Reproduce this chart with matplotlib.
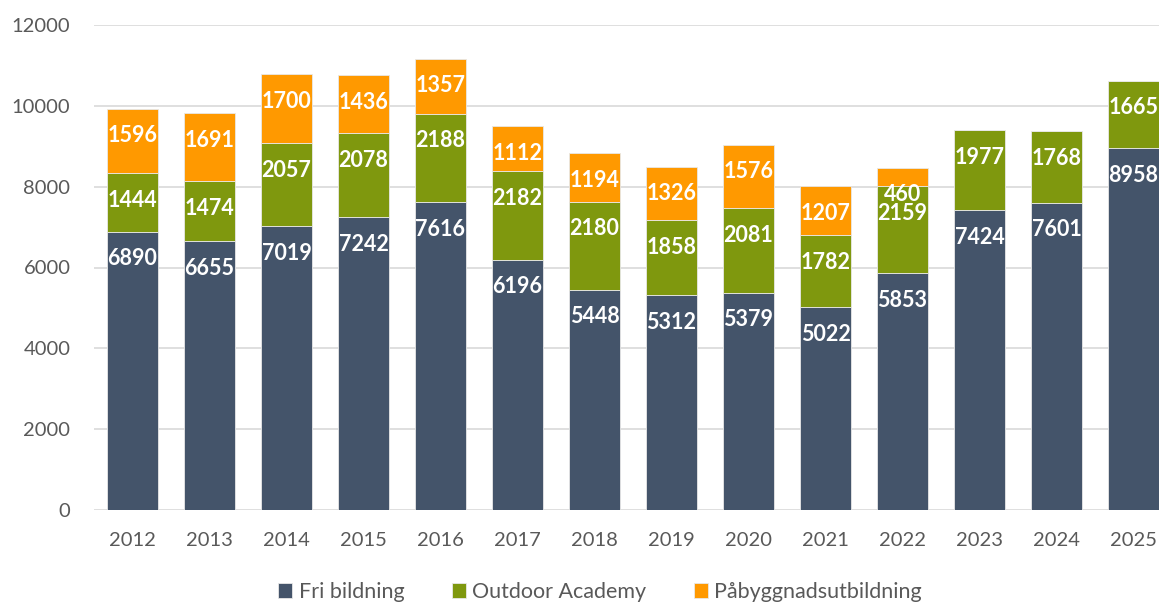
import numpy as np
import matplotlib.pyplot as plt

# ---------------- Data ----------------
years = ["2012", "2013", "2014", "2015", "2016", "2017", "2018",
         "2019", "2020", "2021", "2022", "2023", "2024", "2025"]
fri_bildning = [6890, 6655, 7019, 7242, 7616, 6196, 5448,
                5312, 5379, 5022, 5853, 7424, 7601, 8958]
outdoor_academy = [1444, 1474, 2057, 2078, 2188, 2182, 2180,
                   1858, 2081, 1782, 2159, 1977, 1768, 1665]
pabyggnad = [1596, 1691, 1700, 1436, 1357, 1112, 1194,
             1326, 1576, 1207, 460, 0, 0, 0]

series = [
    ("Fri bildning", fri_bildning, "#44546A"),
    ("Outdoor Academy", outdoor_academy, "#7F980E"),
    ("Påbyggnadsutbildning", pabyggnad, "#FF9900"),
]

plt.rcParams["font.family"] = ["Lato", "DejaVu Sans"]

# ---------------- Plot ----------------
fig = plt.figure(figsize=(11.59, 6.04), dpi=100)
ax = fig.add_axes([94 / 1159, 94 / 604, 1078 / 1159, 485 / 604])

x = np.arange(len(years))
bottom = np.zeros(len(years))
for name, vals, color in series:
    vals = np.array(vals, dtype=float)
    ax.bar(x, vals, 0.66, bottom=bottom, color=color, label=name,
           edgecolor="#E8E8E8", linewidth=0.6, zorder=3)
    for xi, b, v in zip(x, bottom, vals):
        if v > 0:
            ax.annotate(f"{int(v)}", (xi, b + v), xytext=(0, -19.5),
                        textcoords="offset points", ha="center", va="center",
                        color="white", fontsize=15.5, fontweight="bold", zorder=4)
    bottom += vals

ax.set_xlim(-0.5, len(years) - 0.5)
ax.set_ylim(0, 12000)
ax.set_yticks(range(0, 12001, 2000))
ax.set_xticks(x)
ax.set_xticklabels(years)
ax.yaxis.grid(True, color="#D9D9D9", linewidth=1.2, zorder=0)
ax.set_axisbelow(True)
for s in ax.spines.values():
    s.set_visible(False)
ax.tick_params(axis="both", length=0, labelsize=14.5, labelcolor="#595959")
ax.tick_params(axis="x", pad=16)
ax.tick_params(axis="y", pad=17)

fig.legend(loc="center", bbox_to_anchor=(600 / 1159, 1 - 592 / 604), ncol=3,
           frameon=False, fontsize=15.5, labelcolor="#595959",
           handlelength=0.65, handleheight=0.65, handletextpad=0.3,
           columnspacing=2.2)

fig.savefig("out.png", dpi=100)
